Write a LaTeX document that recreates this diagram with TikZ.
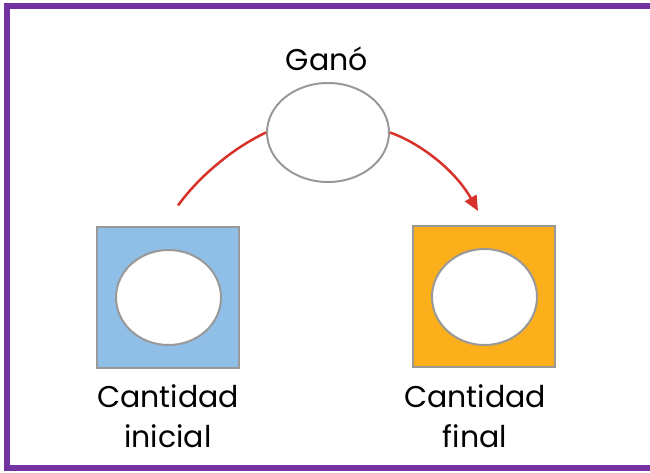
\documentclass[tikz,border=0pt]{standalone}
\usepackage{fontspec}
\setmainfont{Poppins}
\usetikzlibrary{shapes.geometric,arrows.meta}
\definecolor{framepurple}{HTML}{7232A0}
\definecolor{boxblue}{HTML}{8FBFE7}
\definecolor{boxorange}{HTML}{FBAF1B}
\definecolor{rimgray}{HTML}{999999}
\definecolor{arcred}{HTML}{D7322A}
\tikzset{
  qtybox/.style={draw=rimgray, line width=2pt, minimum width=142pt, minimum height=141pt, inner sep=0pt},
  hole/.style={ellipse, draw=rimgray, line width=2pt, fill=white, inner sep=0pt},
  caption/.style={align=center, inner sep=0pt, font=\fontsize{30}{40}\selectfont},
  flow/.style={draw=arcred, line width=2.5pt},
}
\begin{document}
\begin{tikzpicture}[x=1pt, y=-1pt]
\useasboundingbox (0,0) rectangle (650,472);
% frame open on the right
\draw[framepurple, line width=5.5pt, line join=miter] (652,6) -- (7,6) -- (7,468) -- (652,468);

% the two amounts
\node[qtybox, fill=boxblue] (ini) at (168,297) {};
\node[hole, minimum width=105pt, minimum height=95pt] (iniHole) at (168.5,297.5) {};
\node[qtybox, fill=boxorange] (fin) at (484,296.5) {};
\node[hole, minimum width=105pt, minimum height=96pt] (finHole) at (484.5,297) {};

% what was won
\node[hole, minimum width=122pt, minimum height=99pt] (gano) at (328,132.5) {};
\node[anchor=base, inner sep=0pt, font=\fontsize{30}{36}\selectfont] (ganoLbl) at (327,70) {Ganó};

% captions
\node[caption, anchor=north] (iniLbl) at (168,384) {Cantidad\\inicial};
\node[caption, anchor=north] (finLbl) at (475,384) {Cantidad\\final};

% arcs through the middle oval
\coordinate (arcStart) at ([shift={(10,-20)}]ini.north);
\coordinate (arcEnd) at ([shift={(-6,-14)}]fin.north);
\draw[flow] (arcStart) .. controls (200,175) and (235,147) .. (gano.west);
\draw[flow, -{Triangle[length=15pt, width=13pt]}] (gano.east) .. controls (420,143) and (455,170) .. (arcEnd);
\end{tikzpicture}
\end{document}
